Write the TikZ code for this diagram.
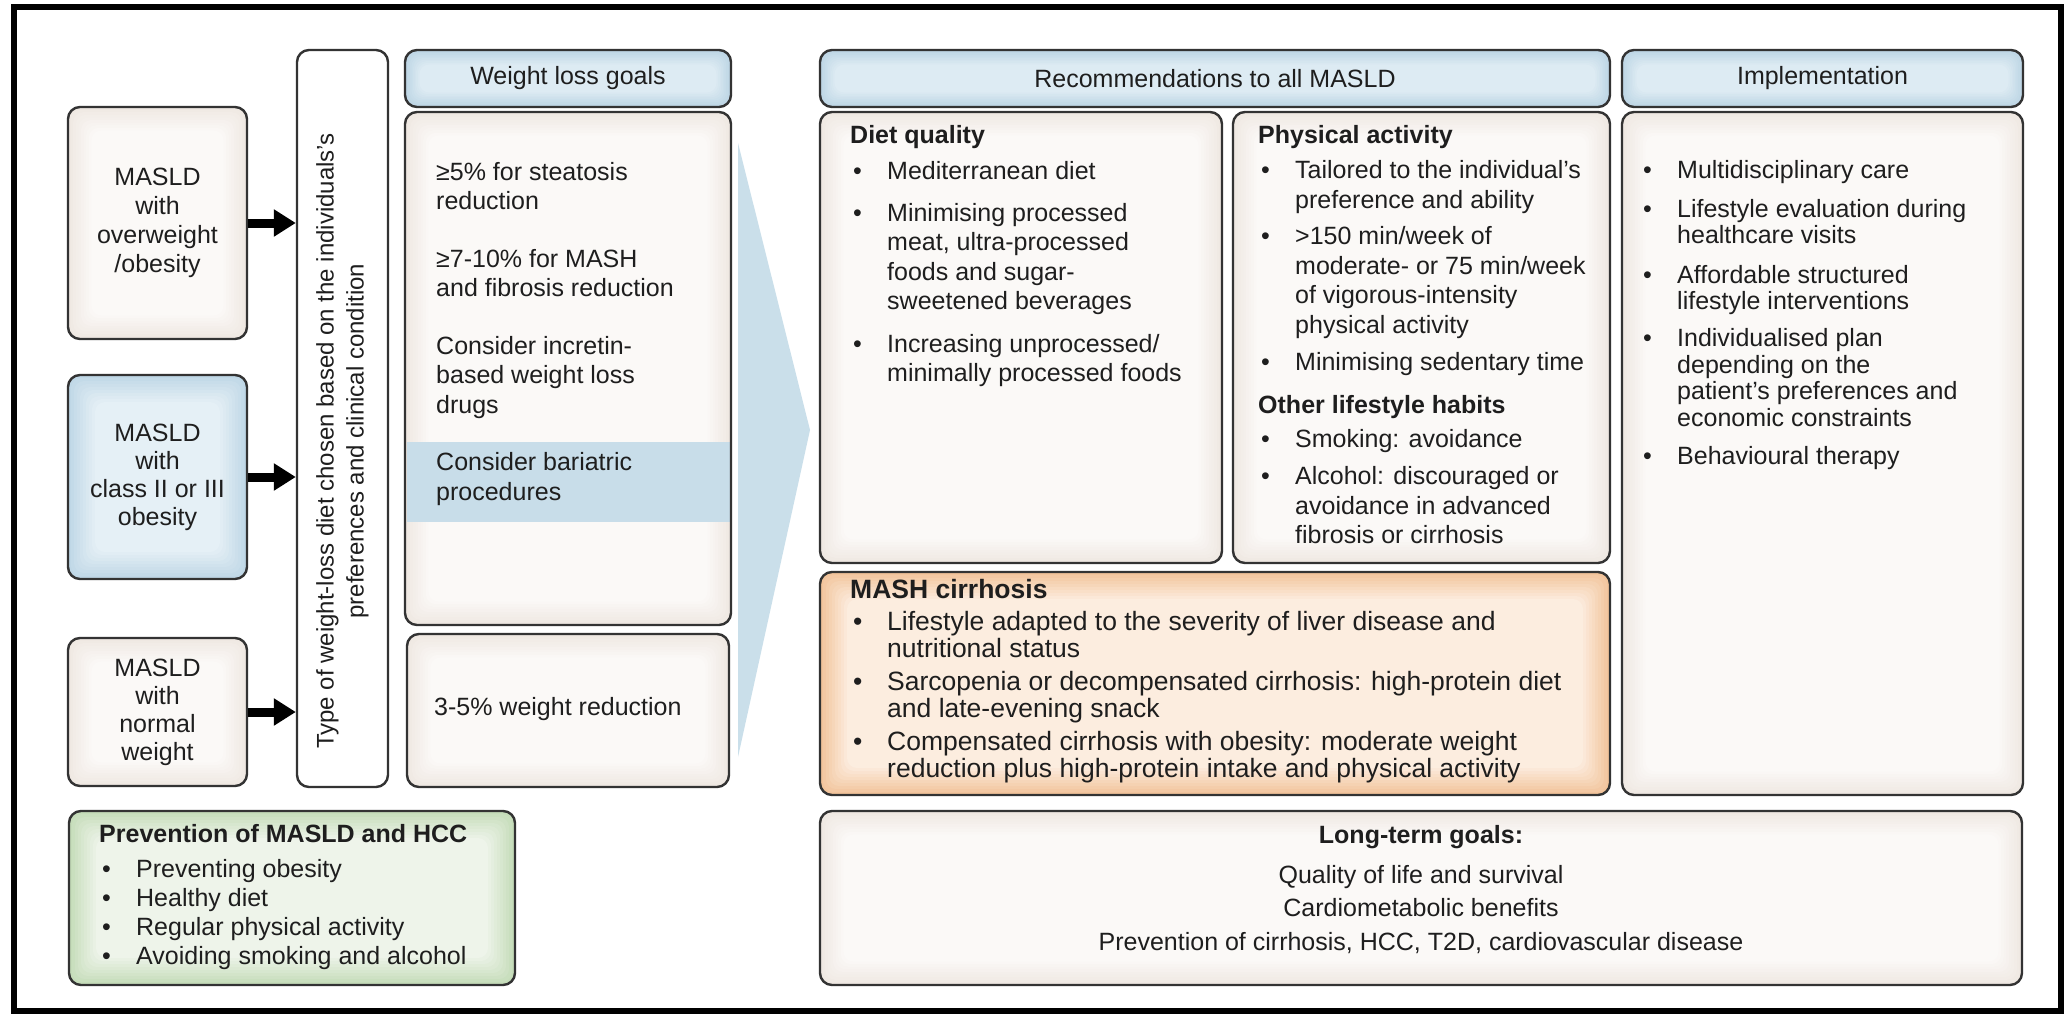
\documentclass[tikz,border=0pt]{standalone}
\usepackage{fontspec}
\setmainfont{Liberation Sans}
\usetikzlibrary{fit,arrows.meta,calc}
\definecolor{bordc}{HTML}{333333}
\definecolor{txtc}{HTML}{1E1E1E}
\definecolor{beigeO}{HTML}{EFE8E2}
\definecolor{beigeI}{HTML}{FBF9F7}
\definecolor{hdrO}{HTML}{BCD5E4}
\definecolor{hdrI}{HTML}{DDEBF3}
\definecolor{blueO}{HTML}{BFD7E6}
\definecolor{blueI}{HTML}{E6F0F6}
\definecolor{mashO}{HTML}{F2C49B}
\definecolor{mashI}{HTML}{FCEDE0}
\definecolor{grnO}{HTML}{C5DCB9}
\definecolor{grnI}{HTML}{EEF4EA}
\definecolor{bandc}{HTML}{C8DDE9}
\definecolor{chevc}{HTML}{CADFEA}
\newlength{\bw}\setlength{\bw}{37pt}
\newcommand{\bi}{\makebox[\bw][l]{\hspace{3pt}\textbullet}}
\newcommand{\ci}{\hspace*{\bw}}
\newcommand{\glowfill}[7]{%
  \fill[#5, rounded corners=12pt] (#1,#2) rectangle (#3,#4);
  \foreach \i [evaluate=\i as \pc using int(\i*11)] in {1,...,9}{
    \fill[#6!\pc!#5, rounded corners=10pt] (#1+\i*#7,#2+\i*#7) rectangle (#3-\i*#7,#4-\i*#7);
  }%
}
\begin{document}
\begin{tikzpicture}[x=1pt,y=-1pt,
  bx/.style={draw=bordc, line width=2.4pt, rounded corners=12pt, inner sep=0pt},
  txt/.style={inner sep=0pt, text=txtc, font=\fontsize{25}{29.5}\selectfont},
  bigarrow/.style={line width=9pt, draw=black, -{Triangle[length=22pt,width=26pt]}},
]
\useasboundingbox (0,0) rectangle (2064,1018);
\fill[white] (0,0) rectangle (2064,1018);
\draw[line width=5.5pt] (14,7) rectangle (2061,1011);

% ---------- left column ----------
\glowfill{68}{107}{247}{339}{beigeO}{beigeI}{2.6}
\node[bx, fit={(68,107) (247,339)}] (b1) {};
\node[txt, align=center, font=\fontsize{25}{29}\selectfont] (b1t) at (b1.center) {MASLD\\with\\overweight\\/obesity};

\glowfill{68}{375}{247}{579}{blueO}{blueI}{3}
\node[bx, fit={(68,375) (247,579)}] (b2) {};
\node[txt, align=center, font=\fontsize{25}{28}\selectfont] (b2t) at (b2.center) {MASLD\\with\\class II or III\\obesity};

\glowfill{68}{638}{247}{786}{beigeO}{beigeI}{2.6}
\node[bx, fit={(68,638) (247,786)}] (b3) {};
\node[txt, align=center, font=\fontsize{25}{28}\selectfont] (b3t) at (b3.center) {MASLD\\with\\normal\\weight};

\node[bx, fill=white, fit={(297,50) (388,787)}] (vb) {};
\node[txt, rotate=90, align=center, font=\fontsize{24}{30}\selectfont] (vbt) at (342.5,441) {Type of weight-loss diet chosen based on the individuals’s\\preferences and clinical condition};

\draw[bigarrow] (b1.east) -- (b1.east -| vb.west);
\draw[bigarrow] (b2.east) -- (b2.east -| vb.west);
\draw[bigarrow] (b3.east) -- (b3.east -| vb.west);

% ---------- weight loss goals ----------
\glowfill{405}{50}{731}{107}{hdrO}{hdrI}{1.6}
\node[bx, fit={(405,50) (731,107)}] (wlgh) {};
\node[txt] (wlght) at (wlgh.center) {Weight loss goals};

\glowfill{405}{112}{731}{625}{beigeO}{beigeI}{2.6}
\fill[bandc] (406.5,442) rectangle (729.5,522);
\node[bx, fit={(405,112) (731,625)}] (wlg) {};
\node[txt, anchor=base west] (wlgt) at (436,180) {\begin{tabular}[t]{@{}l@{}}
≥5\% for steatosis\\
reduction\\[28pt]
≥7-10\% for MASH\\
and fibrosis reduction\\[28pt]
Consider incretin-\\
based weight loss\\
drugs\\[28pt]
Consider bariatric\\
procedures
\end{tabular}};

\glowfill{407}{634}{729}{787}{beigeO}{beigeI}{2.6}
\node[bx, fit={(407,634) (729,787)}] (wl2) {};
\node[txt, anchor=base west] (wl2t) at (434,715) {3-5\% weight reduction};

\fill[chevc] (738,143) -- (810,430) -- (738,757) -- cycle;

% ---------- recommendations ----------
\glowfill{820}{50}{1610}{107}{hdrO}{hdrI}{1.6}
\node[bx, fit={(820,50) (1610,107)}] (rech) {};
\node[txt] (recht) at (rech.center) {Recommendations to all MASLD};

\glowfill{820}{112}{1222}{563}{beigeO}{beigeI}{2.6}
\node[bx, fit={(820,112) (1222,563)}] (diet) {};
\node[txt, anchor=base west] (dietT) at (850,143) {\begin{tabular}[t]{@{}l@{}}
\textbf{Diet quality}\\[6.5pt]
\bi Mediterranean diet\\[12.5pt]
\bi Minimising processed\\
\ci meat, ultra-processed\\
\ci foods and sugar-\\
\ci sweetened beverages\\[13pt]
\bi Increasing unprocessed/\\
\ci minimally processed foods
\end{tabular}};

\glowfill{1233}{112}{1610}{563}{beigeO}{beigeI}{2.6}
\node[bx, fit={(1233,112) (1610,563)}] (phys) {};
\node[txt, anchor=base west] (physT) at (1258,143) {\begin{tabular}[t]{@{}l@{}}
\textbf{Physical activity}\\[6pt]
\bi Tailored to the individual’s\\
\ci preference and ability\\[7pt]
\bi >150 min/week of\\
\ci moderate- or 75 min/week\\
\ci of vigorous-intensity\\
\ci physical activity\\[8pt]
\bi Minimising sedentary time\\[13pt]
\textbf{Other lifestyle habits}\\[4.5pt]
\bi Smoking: avoidance\\[8pt]
\bi Alcohol: discouraged or\\
\ci avoidance in advanced\\
\ci fibrosis or cirrhosis
\end{tabular}};

\glowfill{820}{572}{1610}{795}{mashO}{mashI}{3}
\node[bx, fit={(820,572) (1610,795)}] (mash) {};
\node[txt, anchor=base west, font=\fontsize{26.5}{25.5}\selectfont] (mashT) at (850,598) {\begin{tabular}[t]{@{}l@{}}
\textbf{MASH cirrhosis}\\[6pt]
\bi Lifestyle adapted to the severity of liver disease and\\
\ci nutritional status\\[6pt]
\bi Sarcopenia or decompensated cirrhosis: high-protein diet\\
\ci and late-evening snack\\[6pt]
\bi Compensated cirrhosis with obesity: moderate weight\\
\ci reduction plus high-protein intake and physical activity
\end{tabular}};

% ---------- implementation ----------
\glowfill{1622}{50}{2023}{107}{hdrO}{hdrI}{1.6}
\node[bx, fit={(1622,50) (2023,107)}] (imph) {};
\node[txt] (impht) at (imph.center) {Implementation};

\glowfill{1622}{112}{2023}{795}{beigeO}{beigeI}{2.6}
\node[bx, fit={(1622,112) (2023,795)}] (imp) {};
\node[txt, anchor=base west, font=\fontsize{25}{26.5}\selectfont] (impT) at (1640,178) {\begin{tabular}[t]{@{}l@{}}
\bi Multidisciplinary care\\[12.5pt]
\bi Lifestyle evaluation during\\
\ci healthcare visits\\[13pt]
\bi Affordable structured\\
\ci lifestyle interventions\\[10.5pt]
\bi Individualised plan\\
\ci depending on the\\
\ci patient’s preferences and\\
\ci economic constraints\\[12pt]
\bi Behavioural therapy
\end{tabular}};

% ---------- bottom ----------
\glowfill{69}{811}{515}{985}{grnO}{grnI}{3}
\node[bx, fit={(69,811) (515,985)}] (prev) {};
\node[txt, anchor=base west, font=\fontsize{25}{29}\selectfont] (prevT) at (99,842) {\begin{tabular}[t]{@{}l@{}}
\textbf{Prevention of MASLD and HCC}\\[6pt]
\bi Preventing obesity\\
\bi Healthy diet\\
\bi Regular physical activity\\
\bi Avoiding smoking and alcohol
\end{tabular}};

\glowfill{820}{811}{2022}{985}{beigeO}{beigeI}{2.6}
\node[bx, fit={(820,811) (2022,985)}] (ltg) {};
\node[txt, anchor=base, font=\fontsize{25}{29}\selectfont] (ltgT) at (1421,843) {\begin{tabular}[t]{@{}c@{}}
\textbf{Long-term goals:}\\[11pt]
Quality of life and survival\\[4.5pt]
Cardiometabolic benefits\\[4.5pt]
Prevention of cirrhosis, HCC, T2D, cardiovascular disease
\end{tabular}};
\end{tikzpicture}
\end{document}
